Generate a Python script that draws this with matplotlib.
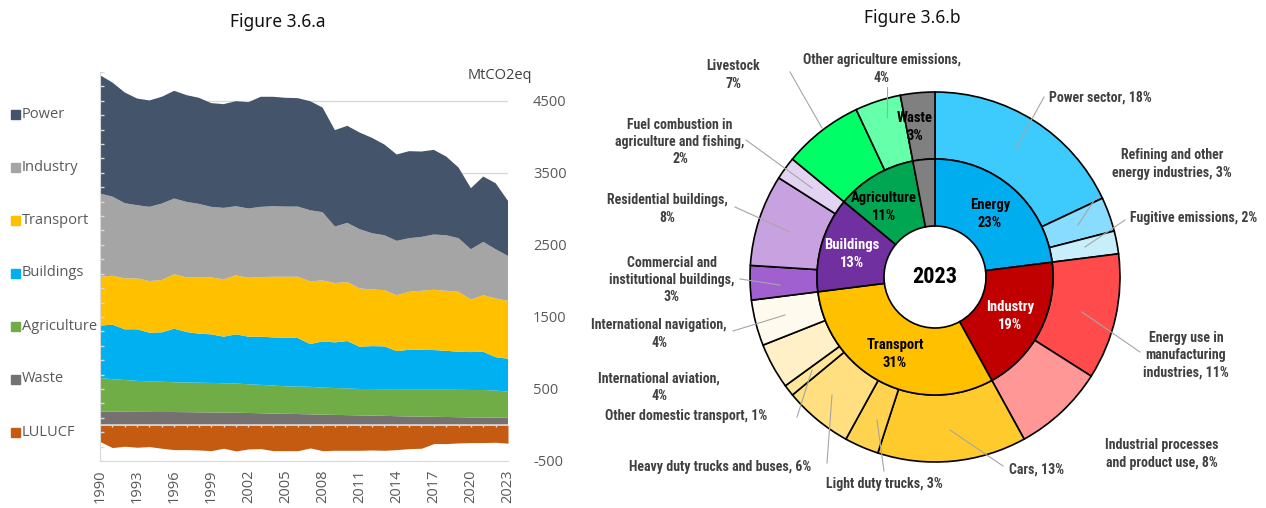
import matplotlib
matplotlib.use('Agg')
import matplotlib.pyplot as plt
import numpy as np
from matplotlib.patches import Rectangle

# ---- Figure 3.6.a data (MtCO2eq) ----
years = list(range(1990, 2024))
power = [1643, 1584, 1537, 1481, 1477, 1482, 1495, 1482, 1473, 1440, 1440, 1458, 1476, 1528, 1519, 1510, 1505,
         1514, 1453, 1338, 1347, 1342, 1324, 1260, 1199, 1208, 1185, 1175, 1093, 981, 847, 907, 916, 764]
industry = [1155, 1099, 1044, 1016, 1030, 1062, 1053, 1048, 1020, 979, 993, 960, 961, 975, 979, 974, 974,
            988, 947, 785, 822, 823, 781, 762, 754, 744, 748, 767, 771, 744, 698, 740, 684, 624]
transport = [679, 679, 707, 707, 717, 726, 754, 758, 782, 791, 795, 819, 818, 827, 842, 846, 851,
             870, 847, 823, 819, 809, 786, 781, 776, 805, 819, 837, 833, 833, 730, 786, 814, 804]
buildings = [726, 758, 703, 716, 676, 686, 744, 701, 680, 674, 646, 682, 661, 669, 668, 675, 674,
             593, 641, 634, 657, 586, 597, 596, 535, 551, 549, 545, 538, 526, 526, 531, 464, 456]
agriculture = [469, 451, 442, 430, 424, 420, 413, 412, 411, 410, 408, 406, 398, 394, 390, 382, 381,
               382, 376, 373, 371, 367, 368, 368, 369, 374, 379, 382, 381, 382, 381, 381, 376, 363]
waste = [184, 184, 183, 182, 181, 180, 180, 178, 176, 174, 172, 170, 167, 163, 158, 155, 152,
         148, 143, 140, 137, 133, 130, 127, 122, 119, 116, 113, 111, 108, 105, 104, 102, 100]
lulucf = [-230, -314, -295, -309, -300, -323, -342, -342, -347, -356, -323, -360, -333, -328, -356, -356, -356,
          -319, -356, -351, -351, -351, -347, -351, -342, -328, -323, -258, -258, -249, -244, -244, -240, -253]

legend_labels = ['Power', 'Industry', 'Transport', 'Buildings', 'Agriculture', 'Waste', 'LULUCF']
area_colors = ['#44546A', '#A5A5A5', '#FFC000', '#00B0F0', '#70AD47', '#767171', '#C55A11']
ytick_vals = [-500, 500, 1500, 2500, 3500, 4500]
xtick_years = list(range(1990, 2024, 3))

# ---- Figure 3.6.b data (% of 2023 emissions) ----
sectors = ['Energy', 'Industry', 'Transport', 'Buildings', 'Agriculture', 'Waste']
sector_pct = [23, 19, 31, 13, 11, 3]
sector_colors = ['#00AEEF', '#C00000', '#FFC000', '#7030A0', '#00A651', '#808080']
subsectors = ['Power sector', 'Refining and other energy industries', 'Fugitive emissions',
              'Energy use in manufacturing industries', 'Industrial processes and product use',
              'Cars', 'Light duty trucks', 'Heavy duty trucks and buses', 'Other domestic transport',
              'International aviation', 'International navigation',
              'Commercial and institutional buildings', 'Residential buildings',
              'Fuel combustion in agriculture and fishing',
              'Livestock', 'Other agriculture emissions', 'Waste']
sub_pct = [18, 3, 2, 11, 8, 13, 3, 6, 1, 4, 4, 3, 8, 2, 7, 4, 3]
sub_colors = ['#3CCBFC', '#87DCFF', '#C8EEFC', '#FF4B4B', '#FF9797',
              '#FFCA2C', '#FFD350', '#FFDF80', '#FFE699', '#FFF0C8', '#FFFAEE',
              '#A060D0', '#C8A2E0', '#E3D3F2', '#00FF66', '#66FFAA', '#808080']

W, H = 1266, 508
fig = plt.figure(figsize=(W / 100, H / 100), dpi=100)
GREY = '#595959'
FONT_A = ['Open Sans', 'DejaVu Sans']
NARROW = ['Roboto Condensed', 'Roboto', 'DejaVu Sans']


def px(x, y):
    return x / W, 1 - y / H


# ---------------- left: stacked area ----------------
ax = fig.add_axes([100 / W, 1 - 461 / H, 408 / W, (461 - 72) / H])
ax.stackplot(years, waste, agriculture, buildings, transport, industry, power,
             colors=area_colors[5::-1], linewidth=0)
ax.fill_between(years, 0, lulucf, color=area_colors[6], linewidth=0)
ax.set_xlim(1990, 2023)
ax.set_ylim(-500, 4900)
for v in ytick_vals[1:]:
    ax.axhline(v, color='#D9D9D9', lw=1, zorder=0)
ax.axhline(0, color='#D9D9D9', lw=1.2, zorder=3)
ax.vlines(years, -28, 0, color='#D9D9D9', lw=1, zorder=3)

ax.yaxis.tick_right()
ax.set_yticks(ytick_vals)
ax.set_yticklabels([str(v) for v in ytick_vals], color=GREY, fontsize=10.5, family=FONT_A)
ax.tick_params(axis='y', length=0, pad=18)
ax.set_xticks(xtick_years)
ax.set_xticklabels([str(y) for y in xtick_years], rotation=90, color=GREY, fontsize=10.5, family=FONT_A)
ax.tick_params(axis='x', length=0, pad=6)
for s in ['top', 'right']:
    ax.spines[s].set_visible(False)
ax.spines['left'].set_color('#D9D9D9')
ax.spines['bottom'].set_color('#D9D9D9')
# small inward ticks on left axis
ax.hlines(np.arange(-500, 4901, 200), 1990, 1990.3, color='#D9D9D9', lw=1, zorder=3)
ax.text(1.06, 0.99, 'MtCO2eq', transform=ax.transAxes, ha='right', va='center',
        color='#404040', fontsize=10.5, family=FONT_A)

for i, (lab, col) in enumerate(zip(legend_labels, area_colors)):
    yy = 114 + 53 * i
    fig.add_artist(Rectangle(px(11, yy + 4.5), 9 / W, 9 / H, color=col, transform=fig.transFigure))
    fig.text(*px(22, yy), lab, color=GREY, fontsize=10.5, family=FONT_A, va='center', ha='left')

fig.text(*px(278, 22), 'Figure 3.6.a', ha='center', va='center', fontsize=12.5,
         family=['Noto Sans', 'DejaVu Sans'], color='#111111')
fig.text(*px(912, 18), 'Figure 3.6.b', ha='center', va='center', fontsize=12.5,
         family=['Noto Sans', 'DejaVu Sans'], color='#111111')

# ---------------- right: sunburst ----------------
cx, cy = 935, 277
ax2 = fig.add_axes([560 / W, 0, (W - 560) / W, 1])
R_out, R_mid, R_in = 185, 118, 51
edge = dict(edgecolor='black', linewidth=1.2)
ax2.pie(sub_pct, radius=R_out, colors=sub_colors, startangle=90, counterclock=False,
        wedgeprops=dict(width=R_out - R_mid, **edge))
ax2.pie(sector_pct, radius=R_mid, colors=sector_colors, startangle=90, counterclock=False,
        wedgeprops=dict(width=R_mid - R_in, **edge))
ax2.set_xlim(560 - cx, W - cx)
ax2.set_ylim(cy - H, cy)
ax2.set_aspect('equal')
ax2.axis('off')


def P(x, y):
    return x - cx, cy - y


ax2.text(*P(935, 277), '2023', ha='center', va='center', fontsize=16, fontweight='bold', family=NARROW)

inner_labels = [('Energy\n23%', 990, 214, 'black'), ('Industry\n19%', 1010, 316, 'white'),
                ('Transport\n31%', 895, 354, 'black'), ('Buildings\n13%', 852, 254, 'white'),
                ('Agriculture\n11%', 884, 207, 'black'), ('Waste\n3%', 915, 127, 'black')]
for txt, x, y, c in inner_labels:
    ax2.text(*P(x, y), txt, ha='center', va='center', fontsize=10.5, fontweight='bold',
             color=c, linespacing=1.3, family=NARROW)

LBL = '#404040'
outer_labels = [
    ('Livestock\n7%', 733, 75, 'center', [(790, 72), (822, 128)]),
    ('Other agriculture emissions,\n4%', 882, 69, 'center', [(887, 87), (887, 117)]),
    ('Power sector, 18%', 1049, 98, 'left', [(1044, 97), (1015, 150)]),
    ('Refining and other\nenergy industries, 3%', 1172, 164, 'center', [(1097, 196), (1078, 225)]),
    ('Fugitive emissions, 2%', 1130, 218, 'left', [(1125, 220), (1085, 247)]),
    ('Fuel combustion in\nagriculture and fishing,\n2%', 680, 142, 'center', [(746, 140), (812, 188)]),
    ('Residential buildings,\n8%', 667, 209, 'center', [(735, 207), (790, 232)]),
    ('Commercial and\ninstitutional buildings,\n3%', 672, 280, 'center', [(740, 279), (780, 285)]),
    ('International navigation,\n4%', 659, 334, 'center', [(733, 331), (785, 315)]),
    ('International aviation,\n4%', 659, 387, 'center', None),
    ('Other domestic transport, 1%', 686, 416, 'center', [(797, 417), (812, 370)]),
    ('Heavy duty trucks and buses, 6%', 720, 467, 'center', [(827, 463), (832, 395)]),
    ('Light duty trucks, 3%', 884, 484, 'center', [(884, 471), (877, 420)]),
    ('Cars, 13%', 1037, 470, 'center', [(1003, 466), (950, 430)]),
    ('Energy use in\nmanufacturing\nindustries, 11%', 1186, 355, 'center', [(1140, 352), (1082, 312)]),
    ('Industrial processes\nand product use, 8%', 1162, 454, 'center', None),
]
for txt, x, y, ha, line in outer_labels:
    ax2.text(*P(x, y), txt, ha=ha, va='center', fontsize=10, fontweight='bold', color=LBL,
             linespacing=1.3, family=NARROW)
    if line:
        (x0, y0), (x1, y1) = line
        ax2.plot([x0 - cx, x1 - cx], [cy - y0, cy - y1], color='#A6A6A6', lw=0.8, zorder=5)

fig.savefig('out.png', dpi=100, facecolor='white')
